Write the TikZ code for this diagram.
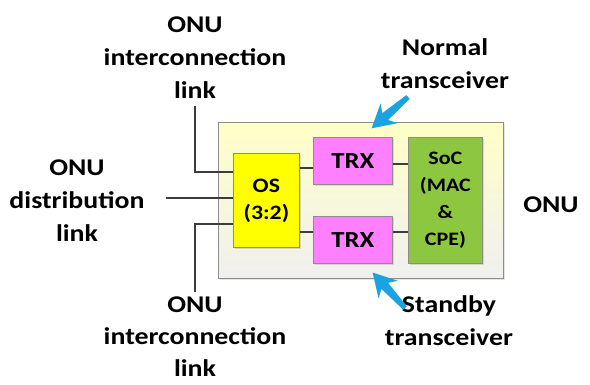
\documentclass[tikz,border=0pt]{standalone}
\usepackage{fontspec}
\setmainfont{Carlito}[FakeStretch=1.16]
\usetikzlibrary{shadows}
\definecolor{linegray}{HTML}{3C3C3C}
\definecolor{boxedge}{HTML}{8C8C8C}
\definecolor{osyellow}{HTML}{FFFF00}
\definecolor{trxpink}{HTML}{FF80FF}
\definecolor{socgreen}{HTML}{8DC63F}
\definecolor{arrowblue}{HTML}{1AA3E0}
\tikzset{
  label/.style={font=\fontsize{24}{33}\selectfont\bfseries, align=center, inner sep=0pt},
  unit/.style={draw=boxedge, line width=0.8pt, inner sep=0pt,
    drop shadow={shadow xshift=2pt, shadow yshift=-2pt, opacity=0.25}},
  link/.style={draw=linegray, line width=1.4pt},
  blockarrow/.pic={
    \fill[arrowblue] (0,-2.5) -- (30,-4.5) -- (25,-13) -- (48,0) -- (25,13) -- (30,4.5) -- (0,2.5) -- cycle;
  }
}
\begin{document}
\begin{tikzpicture}[x=1pt, y=-1pt]
\useasboundingbox (0,0) rectangle (590,385);

% ONU enclosure
\node[draw=boxedge, line width=0.8pt, top color=yellow!22, bottom color=black!6!white,
      minimum width=285pt, minimum height=156pt, anchor=north west,
      drop shadow={shadow xshift=2pt, shadow yshift=-2pt, opacity=0.2}] (onu) at (218,122) {};

% functional blocks
\node[unit, fill=osyellow, minimum width=66pt, minimum height=94pt, anchor=north west,
      font=\fontsize{20.5}{27}\selectfont\bfseries, align=center] (os) at (233,153) {OS\\(3:2)};
\node[unit, fill=trxpink, minimum width=79pt, minimum height=47pt, anchor=north west,
      font=\fontsize{23}{26}\selectfont\bfseries] (trx1) at (313,137) {TRX};
\node[unit, fill=trxpink, minimum width=79pt, minimum height=47pt, anchor=north west,
      font=\fontsize{23}{26}\selectfont\bfseries] (trx2) at (313,216) {TRX};
\node[unit, fill=socgreen, minimum width=74pt, minimum height=126pt, anchor=north west,
      font=\fontsize{19}{27}\selectfont\bfseries, align=center] (soc) at (408,137) {SoC\\(MAC\\\&\\CPE)};

% labels
\node[label] (ictop) at (195,58) {ONU\\interconnection\\link};
\node[label] (dist) at (77,201) {ONU\\distribution\\link};
\node[label, font=\fontsize{24}{32}\selectfont\bfseries] (icbot) at (195,337) {ONU\\interconnection\\link};
\node[label] (normal) at (445,64) {Normal\\transceiver};
\node[label] (standby) at (449,321) {Standby\\transceiver};
\node[label] (onulabel) at (551,205) {ONU};

% link end points
\coordinate (ictopend) at (195,106);
\coordinate (distend) at (166,198);
\coordinate (icbotend) at (195,292);

% fibre links
\draw[link] (ictopend) |- (os.west |- 0,172);
\draw[link] (distend) -- (os.west |- distend);
\draw[link] (icbotend) |- (os.west |- 0,224);
\draw[link] (os.east |- 0,168) -- (trx1.west |- 0,168);
\draw[link] (os.east |- 0,232) -- (trx2.west |- 0,232);
\draw[link] (trx1.east |- 0,164) -- (soc.west |- 0,164);
\draw[link] (trx2.east |- 0,232) -- (soc.west |- 0,232);

% pointer arrows
\pic[shift={(408,97)}, rotate=220.7] {blockarrow};
\pic[shift={(405,308)}, rotate=132.4] {blockarrow};
\end{tikzpicture}
\end{document}
